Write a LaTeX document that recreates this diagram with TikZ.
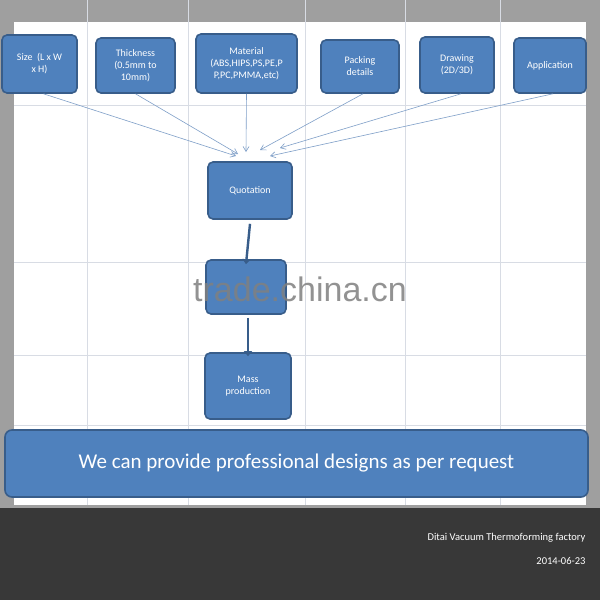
\documentclass[tikz,border=0pt]{standalone}
\usepackage{fontspec}
\setmainfont{Carlito}
\newfontfamily\wmfont{Liberation Sans}
\begin{document}
\begin{tikzpicture}[x=1pt,y=-1pt,
  bx/.style={draw=boxline,line width=1.6pt,fill=boxfill,rounded corners=5pt,text=white,align=center,font=\fontsize{10}{12}\selectfont,inner sep=1pt},
  thin/.style={draw=arrowc,line width=0.6pt,-{Straight Barb[length=5pt,width=6pt]}},
  thick/.style={draw=boxline,line width=2.4pt,-{Triangle[length=5pt,width=8pt]}}]
\usetikzlibrary{arrows.meta}
\definecolor{boxfill}{HTML}{4F81BD}
\definecolor{boxline}{HTML}{385D8A}
\definecolor{arrowc}{HTML}{7F9FC8}
\definecolor{gridc}{HTML}{D8DCE4}
\useasboundingbox (0,0) rectangle (600,600);
\fill[gray!75] (0,0) rectangle (600,508);
\fill[white] (14,22) rectangle (586,505);
\fill[black!78] (0,508) rectangle (600,600);
\foreach \x in {87,188,305,405,500} \draw[gridc,line width=0.8pt] (\x,0) -- (\x,505);
\foreach \y in {105,262,355,425} \draw[gridc,line width=0.8pt] (14,\y) -- (586,\y);
\node[bx,minimum width=75pt,minimum height=58pt] (size) at (39.5,64) {Size \ (L x W\\x H)};
\node[bx,minimum width=79pt,minimum height=55pt] (thick) at (135.5,65.5) {Thickness\\(0.5mm to\\10mm)};
\node[bx,minimum width=101pt,minimum height=59pt] (mat) at (246.5,63.5) {Material\\(ABS,HIPS,PS,PE,P\\P,PC,PMMA,etc)};
\node[bx,minimum width=78pt,minimum height=53pt] (pack) at (360,66.5) {Packing\\details};
\node[bx,minimum width=74pt,minimum height=56pt] (draw) at (457,65) {Drawing\\(2D/3D)};
\node[bx,minimum width=72pt,minimum height=55pt] (app) at (550,65.5) {Application};
\node[bx,minimum width=84pt,minimum height=57pt] (quot) at (250,190.5) {Quotation};
\node[bx,minimum width=80pt,minimum height=54pt] (mid) at (246,287) {};
\node[bx,minimum width=86pt,minimum height=66pt] (mass) at (248,386) {Mass\\production};
\node[bx,minimum width=583pt,minimum height=67pt,rounded corners=7pt,font=\fontsize{21}{24}\selectfont] (ban) at (296.5,463.5) {We can provide professional designs as per request};
\coordinate (t1) at (236,156); \coordinate (t2) at (238,154); \coordinate (t3) at (246,152);
\coordinate (t4) at (260,150); \coordinate (t5) at (280,148); \coordinate (t6) at (270,156);
\draw[thin] (size.south) ++(4,0) -- (t1);
\draw[thin] (thick.south) -- (t2);
\draw[thin] (mat.south) -- (t3);
\draw[thin] (pack.south) ++(3,0) -- (t4);
\draw[thin] (draw.south) ++(4,0) -- (t5);
\draw[thin] (app.south) ++(3,0) -- (t6);
\draw[thick] (quot.south) ++(0,4) -- ([yshift=-5pt]mid.north);
\draw[thick] (mid.south) ++(2,3) -- ([yshift=-4pt]mass.north);
\node[font=\wmfont\fontsize{34}{36}\selectfont,text=gray,opacity=0.85] (wm) at (300,289) {trade.china.cn};
\node[anchor=east,text=white,font=\fontsize{10.5}{12}\selectfont] (f1) at (589,538) {Ditai Vacuum Thermoforming factory};
\node[anchor=east,text=white,font=\fontsize{10.5}{12}\selectfont] (f2) at (589,561) {2014-06-23};
\end{tikzpicture}
\end{document}
